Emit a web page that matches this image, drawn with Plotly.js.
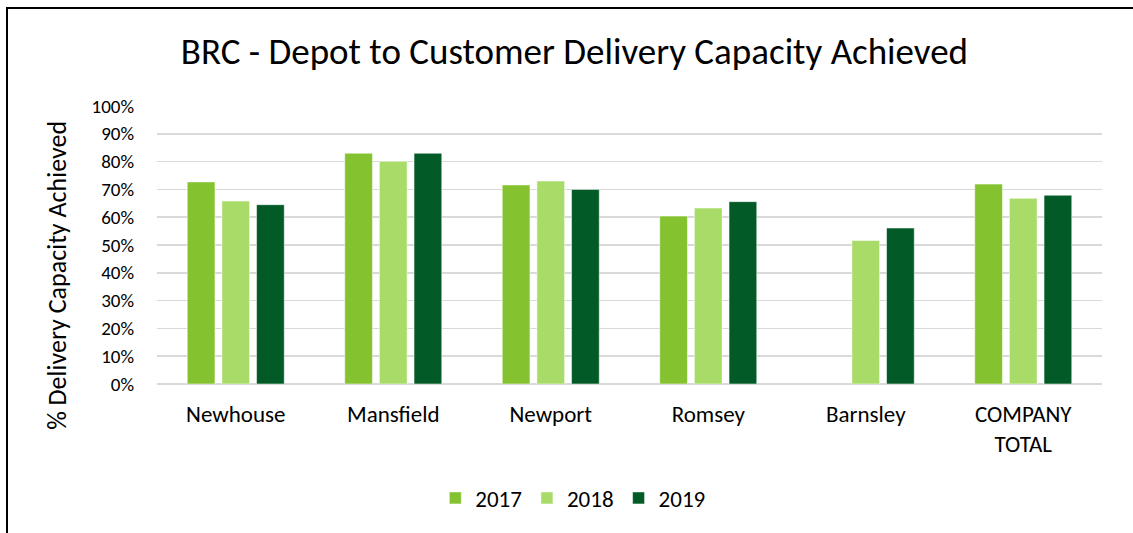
<!DOCTYPE html>
<html>
<head>
<meta charset="utf-8">
<script src="https://cdn.plot.ly/plotly-3.0.1.min.js"></script>
<style>
  html, body { margin: 0; padding: 0; background: #fff; }
  #wrap { position: relative; width: 1133px; height: 533px; overflow: hidden; }
  #chart { position: absolute; left: 0; top: 0; width: 1133px; height: 533px; }
  #frame { position: absolute; left: 6px; top: 7px; width: 1140px; height: 540px;
           border-left: 2px solid #000; border-top: 2px solid #000; pointer-events: none; }
</style>
</head>
<body>
<div id="wrap">
  <div id="chart"></div>
  <div id="frame"></div>
</div>
<script>
const categories = ["Newhouse", "Mansfield", "Newport", "Romsey", "Barnsley", "COMPANY<br>TOTAL"];
const years = ["2017", "2018", "2019"];
const values2017 = [0.727, 0.830, 0.716, 0.604, null, 0.719];
const values2018 = [0.658, 0.801, 0.730, 0.633, 0.516, 0.668];
const values2019 = [0.645, 0.830, 0.700, 0.656, 0.561, 0.679];
const colors = ["#84C32F", "#A9DB69", "#025B27"];
const tickVals = [0, 0.1, 0.2, 0.3, 0.4, 0.5, 0.6, 0.7, 0.8, 0.9, 1.0];
const tickText = ["0%", "10%", "20%", "30%", "40%", "50%", "60%", "70%", "80%", "90%", "100%"];
const yTitle = "% Delivery Capacity Achieved";

const font = "Carlito, Lato, 'Open Sans', sans-serif";
const series = [values2017, values2018, values2019];
const traces = series.map((vals, i) => ({
  type: "bar",
  name: years[i],
  x: categories,
  y: vals,
  marker: { color: colors[i], line: { color: "rgba(255,255,255,0.5)", width: 1 } },
  hoverinfo: "x+y+name"
}));

const layout = {
  width: 1133,
  height: 533,
  paper_bgcolor: "#fff",
  plot_bgcolor: "#fff",
  margin: { l: 157, r: 31, t: 106, b: 149 },
  barmode: "group",
  bargap: 0.34,
  bargroupgap: 0.2,
  font: { family: font, color: "#000" },
  title: {
    text: "BRC - Depot to Customer Delivery Capacity Achieved",
    font: { family: font, size: 37, color: "#000" },
    x: 0.507, xanchor: "center",
    y: 0.905, yanchor: "middle"
  },
  xaxis: {
    type: "category",
    tickfont: { family: font, size: 23, color: "#000" },
    showgrid: false,
    showline: false,
    zeroline: false,
    ticks: "",
    ticklabelstandoff: 14
  },
  yaxis: {
    range: [0, 1.0],
    tickvals: tickVals,
    ticktext: tickText,
    tickfont: { family: font, size: 19, color: "#000" },
    showgrid: true,
    gridcolor: "#D9D9D9",
    gridwidth: 1.5,
    zeroline: true,
    zerolinecolor: "#D9D9D9",
    zerolinewidth: 1.5,
    showline: false,
    ticks: "",
    ticklabelstandoff: 22
  },
  annotations: [{
    text: yTitle,
    xref: "paper", yref: "paper",
    x: -0.106, y: 0.392,
    xanchor: "center", yanchor: "middle",
    textangle: -90,
    showarrow: false,
    font: { family: font, size: 26, color: "#000" }
  }],
  showlegend: true,
  legend: {
    orientation: "h",
    x: 0.44, xanchor: "center",
    y: -0.41, yanchor: "middle",
    font: { family: font, size: 23, color: "#000" },
    itemwidth: 30,
    traceorder: "normal"
  }
};

Plotly.newPlot("chart", traces, layout, { displayModeBar: false, staticPlot: true });
</script>
</body>
</html>
